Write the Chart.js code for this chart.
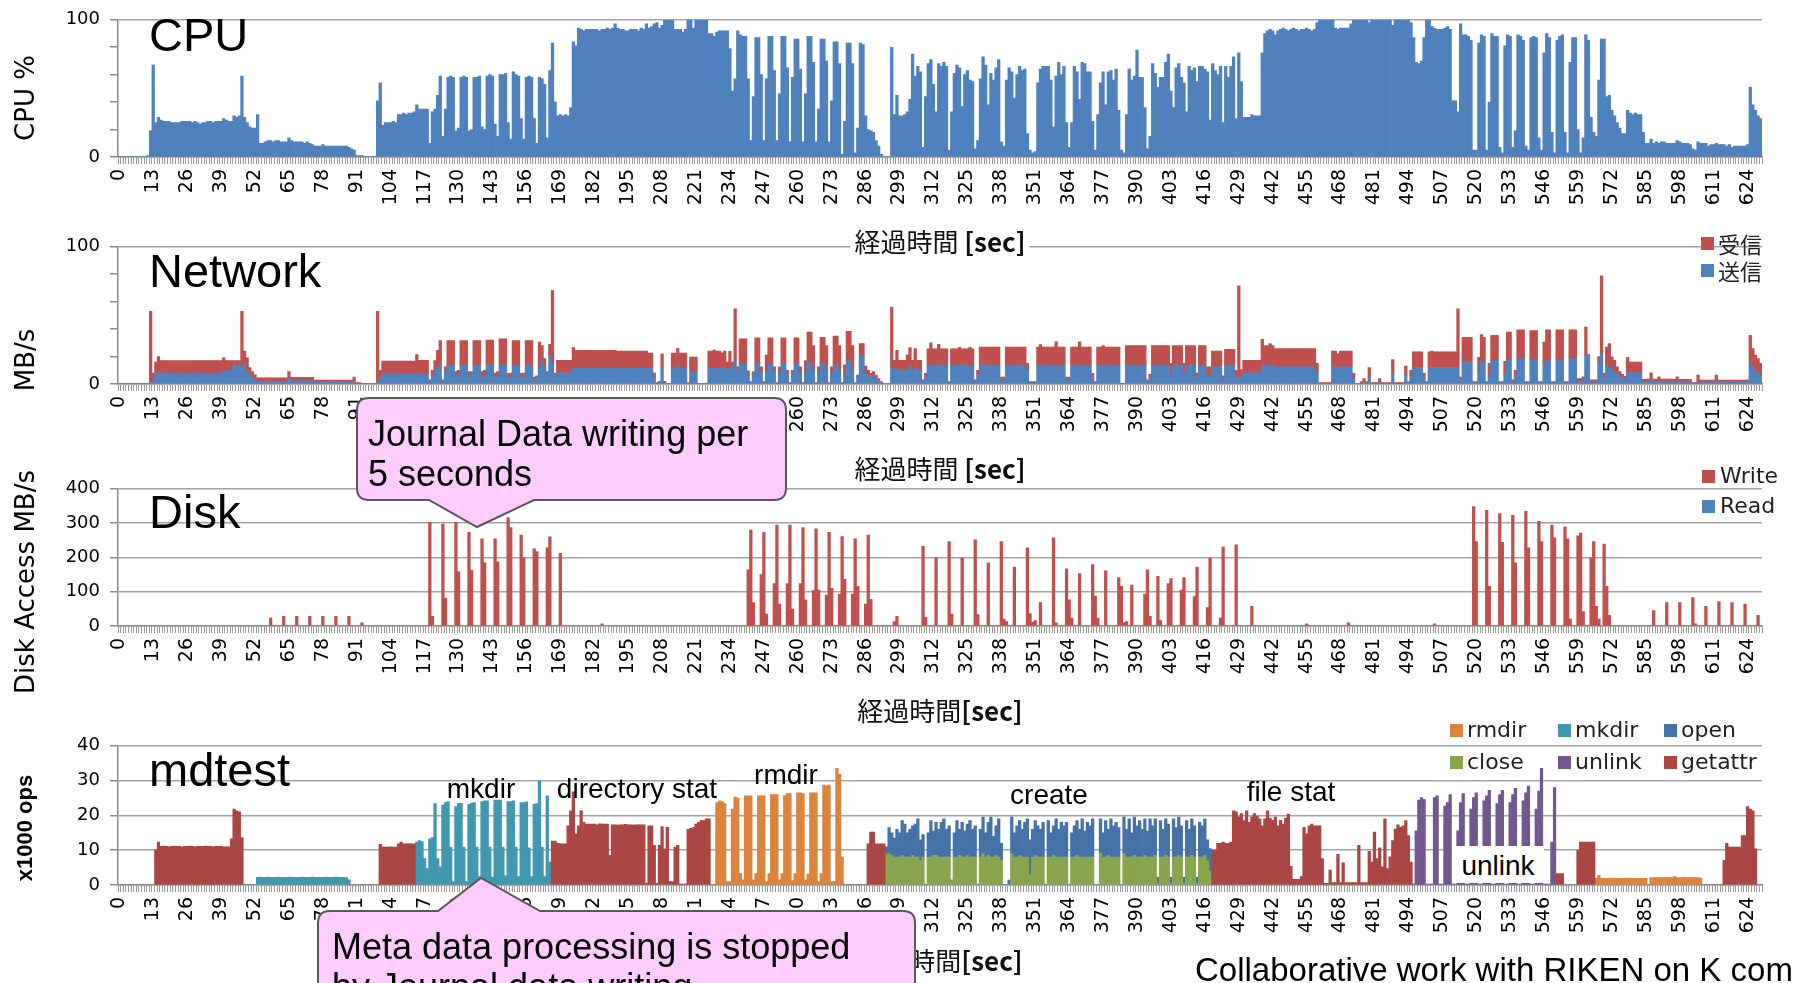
<!DOCTYPE html>
<html>
<head>
<meta charset="utf-8">
<script src="https://cdn.jsdelivr.net/npm/chart.js"></script>
<style>
body{margin:0;width:1793px;height:983px;overflow:hidden;background:#fff;position:relative;font-family:'Liberation Sans',Arial,sans-serif}
canvas{position:absolute;left:0}
.ov{position:absolute;white-space:nowrap;line-height:1;color:#000}
.ctr{transform:translate(-50%,-50%)}
.rot{transform:translate(-50%,-50%) rotate(-90deg)}
.big{font-size:47px}
.xt{font-family:'Noto Sans CJK JP',sans-serif;font-size:26px;background:#fff;padding:0 4px;color:#111}
.xt b{font-weight:700}
.sq{position:absolute;width:13px;height:13px}
.lg{font-family:'DejaVu Sans',sans-serif;font-size:22px;color:#222;transform:translateY(-50%)}
.ann{font-size:28px}
.call{font-size:36px;line-height:40px}
</style>
</head>
<body>
<script>
// time axis: one bar per second
const seconds = Array.from({length: 630}, (_, i) => i);
const tickLabels = [0,13,26,39,52,65,78,91,104,117,130,143,156,169,182,195,208,221,234,247,260,273,286,299,312,325,338,351,364,377,390,403,416,429,442,455,468,481,494,507,520,533,546,559,572,585,598,611,624];

// CPU %
const cpuUsage = [
0,0,0,0,0,0,0,0,0,0,
0,1,19,67,25,29,27,26,26,26,
25,25,25,25,26,26,26,26,25,26,
25,24,25,25,26,26,25,26,26,26,
28,27,26,26,30,29,30,59,29,25,
22,21,21,31,10,10,11,12,12,11,
12,12,11,11,11,14,12,11,11,11,
11,10,11,10,9,8,8,8,9,8,
8,8,8,8,8,8,8,8,7,6,
5,1,1,1,0,0,0,0,0,41,
54,23,25,25,25,26,25,31,31,32,
31,32,32,33,38,35,35,35,35,10,
33,35,45,59,15,35,58,59,58,19,
21,58,59,58,19,20,58,58,59,22,
20,59,60,59,24,15,60,60,61,25,
13,62,60,59,28,13,58,59,58,28,
10,58,57,53,14,63,83,40,30,31,
30,31,30,36,84,81,94,93,92,93,
93,93,93,93,92,93,93,94,93,94,
97,94,93,93,92,92,93,93,93,92,
94,93,97,94,95,97,98,94,96,100,
100,100,100,93,93,93,91,93,100,100,
94,100,100,100,100,100,90,90,88,91,
92,92,92,92,79,48,57,92,89,88,
88,57,12,44,87,87,60,12,57,88,
88,63,12,46,88,88,65,11,58,86,
86,64,11,46,88,88,69,11,35,86,
86,70,11,41,84,84,68,2,26,83,
83,68,3,21,83,82,30,20,19,18,
12,8,2,0,0,0,80,31,45,30,
30,31,33,42,75,59,66,62,7,44,
68,71,53,33,68,66,69,66,5,33,
61,67,65,37,60,63,56,55,6,12,
57,73,67,38,61,56,65,71,11,8,
56,65,62,43,60,66,63,64,17,5,
3,4,54,64,66,66,66,56,22,59,
69,60,66,25,7,25,66,62,42,69,
68,62,62,26,5,31,54,62,38,62,
63,56,64,34,5,3,31,64,56,59,
78,58,58,36,6,15,68,61,51,58,
58,69,75,48,36,65,68,58,54,33,
66,63,65,55,66,66,64,62,27,68,
63,60,66,25,66,58,66,73,28,76,
55,29,29,29,31,30,30,30,76,90,
92,93,92,89,92,93,94,93,92,93,
94,93,92,93,93,94,93,92,93,98,
100,100,100,100,100,100,94,93,94,94,
94,94,97,100,100,100,100,100,100,98,
100,100,100,100,100,100,100,100,96,100,
100,100,100,100,100,98,87,69,68,70,
87,100,100,95,94,93,93,93,94,95,
93,41,41,33,97,89,89,88,85,5,
5,83,89,88,5,40,90,88,88,7,
3,81,89,88,7,19,89,88,85,8,
5,87,88,87,14,5,76,90,87,18,
3,85,88,89,18,3,69,87,87,20,
3,14,89,85,29,18,15,56,86,86,
44,45,34,30,25,21,17,17,34,32,
31,32,31,31,18,10,10,13,10,11,
10,11,11,10,10,10,10,12,11,10,
10,10,9,6,5,11,10,10,10,8,
9,9,10,9,9,9,8,9,7,8,
8,8,8,8,9,51,38,34,30,28
];

// Network MB/s : 送信 (send, bottom) and 受信 (receive, stacked on top)
const netSend = [
0,0,0,0,0,0,0,0,0,0,
0,0,2,2,8,9,8,8,8,8,
8,8,8,7,8,8,8,8,8,8,
8,8,8,8,8,7,8,8,8,8,
9,10,10,10,14,13,14,12,15,9,
6,5,3.6,2,2,2,2,2,2,2,
2,2,2,2,2,4,2.4,2.4,2.4,2.4,
2.4,2.4,2.4,2.4,2.4,1.7,1.7,1.7,1.7,1.7,
1.7,1.7,1.7,1.7,1.7,1.7,1.7,1.7,1.7,1.7,
2,0.5,0.5,0,0,0,0,0,0,2,
5,7.7,7.7,7.7,7.7,7.7,7.7,7.7,7.7,7.7,
7.7,7.7,7.7,7.7,8,7.7,7.7,7.7,7.7,1.7,
6,9,12.5,13.7,1.7,9,13.7,13.7,13.7,5.5,
7,13.7,13.7,13.7,7.7,7,13.7,13.7,13.7,4,
6,14,14,14,5,6,14,14,14,4,
5,13.7,13.7,13.7,5,5,13.7,13.7,13.7,3,
4,12.5,17,12.5,7,21,15,6.5,8.2,8.2,
8.2,8.2,8.2,8.2,12,11.8,11.8,11.8,11.8,11.8,
11.8,11.8,11.8,11.8,11.8,11.8,11.8,11.8,11.8,11.8,
11.8,11.8,11.8,11.8,11.8,11.8,11.8,11.8,11.8,11.8,
11.8,11.8,11.8,11.3,11.3,5,0.5,1,12,1,
0,0,11.3,11.3,13,11.3,11.3,11.3,0.5,9,
9,9,0,0,0,0,11.8,11.8,11.8,11.8,
11.8,11.8,11.8,10,11.8,13.7,16,9,15,15,
15,6,1,7.7,15,15,9,1,9,15,
15,9,0.5,9,15,15,7,0.5,7.7,15,
15,9,0.5,9,16,16,10,0.5,9,15,
15,10,0.5,7.7,13.7,13.7,10,0.5,5.5,17,
17,10,0.5,5.5,21,21,7.7,6,5,6,
4,2,1,0,0,0,12.5,10,11,10,
10,10,10,13,10,12,10,10,2,5,
13.7,14,13.7,13.7,14,13.7,13.7,13.7,1,13.7,
13.7,13.7,13.7,13.7,13.7,13.7,13.7,13.7,2,6,
13.7,13.7,13.7,13.7,13.7,13.7,13.7,13.7,3,3,
13.7,13.7,13.7,13.7,13.7,13.7,13.7,13.7,10,1,
1,1,13.7,13.7,13.7,13.7,13.7,13.7,13.7,13.7,
13.7,13.7,13.7,3,3,13.7,13.7,13.7,13.7,13.7,
13.7,13.7,13.7,4,1,13.7,13.7,13.7,13.7,13.7,
13.7,13.7,13.7,13.7,0.3,0.3,13.7,13.7,13.7,13.7,
13.7,13.7,13.7,13.7,2,4,13.7,13.7,13.7,13.7,
13.7,13.7,13.7,8,13.7,13.7,13.7,13.7,8,13.7,
13.7,13.7,13.7,5,13.7,13.7,13.7,5.8,5.8,12.5,
12.5,12.5,12.5,3,13.7,13.7,13.7,13.7,5,5,
5,8.2,8.2,8.2,8.2,8.2,8.2,8.2,13.7,13.7,
13.7,13.7,13.7,12.5,12.5,12.5,12.5,12.5,12.5,12.5,
12.5,12.5,12.5,12.5,12.5,12.5,12.5,12.5,12.5,8,
0.5,0.5,0.5,0.5,0.5,12.5,12.5,12,12.5,12.5,
12.5,12.5,12.5,4,0,0,0.5,1,0.5,5,
0.5,0.5,0.5,1,0.5,0.5,0.5,0.5,8.2,0.5,
0.5,0.5,0.5,6.5,1,5.3,12,12,12,12,
4,1,12,12,12,12,12,12,12,12,
12,12,12,12,3,15.7,15.7,15.7,15.7,1,
1,10,16.6,16,1,6.5,17,17,17,1,
1,7.7,17.5,17.5,1.5,6,18.5,18.5,18.5,1,
1,17.8,17.8,17.8,1,1,15,18,18,1,
1,18,18,18,1,1,18.5,18.5,18.5,2,
2,3,21,21,1.5,1.5,1.5,15,22,4,
13.7,12.5,10,9,7.7,5.5,4,3,8.2,8.2,
8.2,8.2,8.2,8.2,1.7,1.7,1.7,3,1.7,1.7,
2,1.7,1.7,1.7,1.7,1.7,1.7,2,1.7,1.7,
1.7,1.7,1.7,0.5,0.5,2,1.7,1.7,1.7,1.7,
1.7,1.7,2,1.7,1.7,1.7,1.7,1.7,1.7,1.7,
1.7,1.7,1.7,1.7,1.7,16.6,12.5,9,7.7,7
];
const netRecv = [
0,0,0,0,0,0,0,0,0,0,
0,0,51,6,8,11,9,9,9,9,
9,9,9,10,9,9,9,9,9,9,
9,9,9,9,9,10,9,9,9,9,
10,7,7,7,3,4,3,41,9,10,
6,4,3,2.5,2.5,2.5,2.5,2.5,2.5,2.5,
2.5,2.5,2.5,2.5,2.5,5,2.4,2.4,2.4,2.4,
2.4,2.4,2.4,2.4,2.4,1.2,1.2,1.2,1.2,1.2,
1.2,1.2,1.2,1.2,1.2,1.2,1.2,1.2,1.2,1.2,
3,0.5,0.5,0,0,0,0,0,0,51,
5,9,9,9,9,9,9,9,9,9,
9,9,9,9,13.5,9.6,9.6,9.6,9.6,1.3,
4,8,12,18,1.3,3.5,18,18,18,3.5,
3,18,18,18,1.3,2,18,18,18,5,
4,18,18,18,3,3,19,19,19,3.7,
3,18,18,18,2.7,3,18,18,18,2,
2,18,11,6,2,8,53,1.2,9,9,
9,9,9,9,14.5,12.8,12.8,12.8,12.8,12.8,
12.8,12.8,12.8,12.8,12.8,12.8,12.8,12.8,12.8,12.8,
12.8,12.2,12.2,12.2,12.2,12.2,12.2,12.2,12.2,12.2,
12.2,12.2,12.2,11.3,11.3,3,0.5,1,10,1,
0,0,11.3,11.3,13,11.3,11.3,11.3,0.5,10.7,
10.7,10.7,0,0,0,0,12.2,12.2,13,12.2,
12.2,11,12.2,6,12,2.3,38.7,3.5,18,18,
18,3.6,0.7,1.3,18.7,18.7,3.5,0.7,12,18.7,
18.7,3.5,0.5,3.5,18.7,18.7,3,0.5,2.3,18.7,
18.7,3.5,0.5,8,21.8,21.8,18,0.5,3.5,19,
19,18,0.5,4.8,21.3,21.3,18,0.5,8.5,21.3,
21.3,18,0.5,1,8.4,8.4,5.3,4,2.7,3,
2.5,2,0.7,0,0,0,43.5,7.3,13.6,7.3,
7.3,7.3,11,13.5,7.3,13.8,7.3,7.3,1,2.7,
12,16,12,12,15,12,12,12,0.7,12,
12,12,13,12,12,12,13,12,1,4,
13.3,13.3,13.3,13.3,13.3,13.3,13.3,13.3,2,2,
13.3,13.3,13.3,13.3,13.3,13.3,13.3,13.3,5,0.7,
0.7,0.7,13.3,15,13.3,13.3,13.3,13.3,13.3,17,
13.3,13.3,13.3,2,2,13.3,13.3,13.3,17,13.3,
13.3,13.3,13.3,3.7,0.7,13.3,13.3,14.3,13.3,13.3,
13.3,13.3,13.3,13.3,0.2,0.2,14.3,14.3,14.3,14.3,
14.3,14.3,14.3,14.3,1,3,14.3,14.3,14.3,14.3,
14.3,14.3,14.3,7,14.3,14.3,14.3,14.3,7,14.3,
14.3,14.3,14.3,3,14.3,14.3,14.3,6.7,6.7,11.5,
11.5,11.5,11.5,3,11.6,11.6,11.6,11.6,5,66.6,
5.6,9,9,9,9,9,9,9,18.8,14.3,
14.3,15.7,14.3,13.3,13.3,13.3,13.3,13.3,13.3,13.3,
13.3,13.3,13.3,13.3,13.3,13.3,13.3,13.3,13.3,7,
0.5,0.5,0.5,0.5,0.5,11.5,11.5,10,11.5,11.5,
11.5,11.5,11.5,3.7,0,0,1.2,3,1.2,7,
0.5,0.5,0.5,3,0.5,0.5,0.5,0.5,9.6,0.5,
0.5,0.5,0.5,6.5,0.7,4.7,11.4,11.4,11.4,11.4,
3.7,0.7,11.4,12,11.4,11.4,11.4,11.4,11.4,11.4,
11.4,11.4,11.4,42.7,2,18.3,18.3,18.3,18.3,0.7,
0.7,9.5,19.4,18,0.7,8.5,18.4,18.4,18.4,0.7,
0.7,8.9,20.3,20.3,1.5,4,21,21,21,0.7,
0.7,21.2,21.2,21.2,0.7,0.7,15.6,21.5,21.5,0.7,
0.7,21.5,21.5,21.5,0.7,0.7,21,21,21,2,
2,2.3,20.4,0.5,1.5,1.5,1.5,5,56.8,3.7,
13.3,16.9,9.8,8.3,4.8,3.5,3,2.5,11.3,7.8,
7.8,7.8,7.8,7.8,1.7,1.9,1.9,5.2,1.9,1.9,
3.3,1.9,1.9,1.9,1.9,1.9,1.7,3.3,1.7,1.7,
1.7,1.7,1.7,0.5,0.5,4.5,1.2,1.2,1.2,1.2,
1.2,1.2,4.5,1.2,1.2,1.2,1.2,1.2,1.2,1.2,
1.2,1.2,1.2,1.2,1.3,18.8,13.3,12,10.8,8
];

// Disk write MB/s, [second, value]; read stays empty
const diskWrite = [
[58,23],[63,28],[68,28],[73,28],[78,28],[83,28],[88,28],[93,9],
[119,302],[120,28],[124,297],[125,81],[129,302],[130,158],[134,273],[135,162],[139,254],[140,184],
[144,254],[145,187],[149,316],[150,287],[154,265],[155,199],[159,225],[160,217],[164,228],[165,260],[169,212],[185,6],
[241,164],[242,280],[243,68],[246,150],[247,273],[248,35],[251,124],[252,294],[253,64],[256,124],[257,294],[258,49],
[261,124],[262,287],[263,76],[266,103],[267,283],[268,105],[271,90],[272,273],[273,110],[276,93],[277,261],[278,136],
[281,93],[282,254],[283,116],[286,64],[287,265],[288,78],
[297,13],[298,28],[308,232],[309,25],[313,199],[318,246],[319,35],[323,199],[328,251],[329,33],[333,184],
[338,246],[339,20],[340,13],[343,172],[348,228],[349,36],[350,11],[351,16],[353,68],[358,257],[359,9],
[363,167],[364,76],[365,23],[368,153],[373,179],[374,87],[375,23],[378,161],[383,141],[384,116],[385,9],[386,13],
[388,119],[393,93],[394,164],[395,28],[398,145],[399,16],[402,124],[403,138],[407,105],[408,141],[412,86],[413,172],
[417,54],[418,199],[422,23],[423,230],[428,237],[434,57],
[455,6],[471,9],[504,6],
[519,348],[520,246],[524,337],[525,116],[529,328],[530,244],[534,323],[535,184],[539,334],[540,228],
[544,305],[545,246],[549,294],[550,257],[554,289],[555,254],[556,20],[559,263],[560,271],[561,42],
[564,199],[565,246],[566,57],[567,20],[569,239],[570,116],[571,31],
[588,45],[593,68],[598,68],[603,83],[604,6],[608,57],[613,71],[618,68],[623,64],[628,31]
];
const diskRead = [];

// mdtest, x1000 ops/s : [first second, values...]
const getattrRuns = [
[14,[10.1,12.3]],
[16,[11.1,11.2,11.1,11.0,11.1,11.2,11.1,11.1,11.0,11.1]],
[26,[11.1,11.2,11.1,11.0,11.1,11.1,11.1,11.2,11.1,11.1]],
[36,[11.0,11.1,11.1,11.1,11.0,11.0,11.0,13.3,21.8,21.3]],
[46,[21.0,13.6]],
[100,[11.7,10.9,10.9,10.9,11.0,10.9,10.9,11.8,12.3,11.8]],
[110,[11.8,11.9,11.8,11.8]],
[166,[12.6,12.6,12.0,11.8]],
[170,[11.8,11.8,17.0,21.3,26.8,14.7,17.0,21.3,18.0,17.5]],
[180,[17.5,17.5,17.5,17.3,17.6,17.5,17.5,17.5,8.5,17.3]],
[190,[17.3,17.2,17.3,17.3,17.4,17.3,17.3,17.2,17.3,17.3]],
[200,[17.3,17.3,0.5,17.0,17.0,11.4,0.5,11.4,16.8,10.4]],
[210,[16.6,1.0,1.0,10.9,11.4,0.3,0.3,0.3,16.0,16.3]],
[220,[16.5,17.5,18.0,18.5,18.5,19.0,19.0]],
[287,[11.8,15.2,15.2,11.8,11.8,11.8,11.8]],
[419,[10.0,10.0,12.0,12.0,12.3,12.0,12.0,12.3,21.3,21.0]],
[429,[19.6,20.5,18.5,21.3,18.0,19.6,20.5,19.8,19.0,17.0]],
[439,[19.0,21.3,19.2,18.6,19.5,17.0,18.6,17.5,19.2,20.4]],
[449,[5.4,1.6,1.6,1.6,2.4,16.6,14.7,17.0,17.5,17.0]],
[459,[17.0,17.0,7.6,0.5,0.5,4.3,0.7,0.7,8.8,0.7]],
[469,[6.4,0.7,0.7,0.7,0.7,0.7,11.4,0.7,0.7,0.7]],
[479,[9.7,6.6,15.2,7.6,10.7,5.2,19.0,4.7,8.1,12.8]],
[489,[16.1,17.3,16.6,17.0,18.5,14.2,6.6,0.3]],
[551,[3.3,3.3,3.3]],
[559,[10.0,12.3,12.3,12.3,12.3,12.3,12.3]],
[615,[7.1,12.0,10.9,10.9,10.9,10.9,10.9,14.2,14.2,22.5]],
[625,[21.8,21.3,10.4]]
];
const mkdirRuns = [
[53,[2.2,2.3,2.2,2.2,2.3,2.2,2.2,2.2,2.3,2.2]],
[63,[2.2,2.2,2.3,2.2,2.2,2.2,2.2,2.3,2.2,2.2]],
[73,[2.2,2.3,2.2,2.2,2.2,2.2,2.3,2.2,2.2,2.2]],
[83,[2.3,2.2,2.2,2.2,2.1,1.5]],
[114,[12.3,12.8,12.5,7.6,4.7,13.3]],
[120,[13.6,23.4,7.6,5.2,23.0,23.7,24.0,10.9,1.0,22.5]],
[130,[23.4,23.5,10.9,1.0,23.2,23.5,23.7,10.9,2.4,24.0]],
[140,[24.2,24.2,10.9,2.3,24.4,24.4,24.4,10.9,2.6,24.0]],
[150,[24.0,24.2,10.9,2.4,23.7,23.7,23.9,10.7,2.4,23.2]],
[160,[23.4,29.9,10.9,2.4,25.6,6.6]]
];
const rmdirRuns = [
[229,[23.7,24.2,24.0,23.4,1.0,1.0,21.8,25.3,25.0,3.3]],
[239,[1.5,25.6,25.6,25.6,1.5,3.3,25.6,25.6,25.6,1.0]],
[249,[3.3,26.0,26.0,26.0,1.5,3.3,25.7,26.3,26.3,1.3]],
[259,[3.3,26.5,26.5,26.3,1.5,3.1,26.5,26.5,26.5,1.0]],
[269,[3.3,28.7,28.5,28.7,1.0,1.0,33.5,31.8,8.1]],
[566,[1.9,2.8,1.9,1.9,1.9,2.0,1.9,1.9,1.9,1.9]],
[576,[1.9,1.9,2.0,1.9,1.9,1.9,1.9,1.9,1.9,1.9]],
[587,[2.1,2.1,2.1,2.1,2.1,2.2,2.1,2.1,2.1,2.4]],
[597,[2.1,2.1,2.1,2.2,2.1,2.1,2.1,2.1,2.1,2.0]]
];
const unlinkRuns = [
[497,[15.6,24.4,25.1,24.6,0.3,0.3,0.3,25.1,25.6,0.3]],
[507,[0.3,22.7,23.7,26.0,0.3,0.3,15.6,23.7,26.3,0.3]],
[517,[0.3,21.8,25.1,26.5,0.3,0.3,24.2,25.6,27.2,0.3]],
[527,[0.3,23.4,26.0,27.2,0.3,0.3,23.7,26.0,27.8,0.3]],
[537,[0.3,24.2,26.5,28.4,0.3,0.3,21.8,27.0,33.5,0.3]],
[547,[0.3,0.3,12.3,28.0]]
];
const closeRuns = [
[294,[9,9,8.5,8,8,8,8.5,8,8,8]],
[304,[8.5,8,8,7,8,0,8,8,8.5,8.5]],
[314,[8,8,8,8,8,1.4,8,8,8.5,8]],
[324,[8,8.5,8,8,8,0,8,9,8,8.5]],
[334,[8,8,8.5,8,7,0,0,0,9,8]],
[344,[8,8.5,8,8,8,3,8,8.5,8,8]],
[354,[8,0,8,8,8.5,8,8,8,8,8]],
[364,[0,8,8,8.5,8,8,8,8,8,8]],
[374,[0,0,9,8,8,8.5,8,8,8,8]],
[384,[0,9,8,8,8,8.5,8,8,8,8.5]],
[394,[8,8,8,8.5,0.5,8,8,8.5,8,0.5]],
[404,[8,8,8.5,8,0.5,8,8,8.5,8,0.5]],
[414,[8,8,8.5,7,4]]
];
const openRuns = [
[294,[2,7.5,6.5,5.5,8,7,10,9.5,7,8]],
[304,[8.5,9.5,11,6,6.5,0,7,10.5,7,9.5]],
[314,[8,10,11,8,9,0,7,10.5,7.5,10]],
[324,[7.5,9,10.5,8,9,0.3,8,10.5,7,9.5]],
[334,[11.5,6,8.5,11,5,0,0,1.4,10.5,7]],
[344,[9,10,8,10,11,10,8,10,9,8]],
[354,[10,0,10.5,7,8.5,11,8,10,9,10]],
[364,[0,7,9,10,8,11,7.5,10,9,11]],
[374,[0,0,10,7,10.5,7.5,11,9,10,8.5]],
[384,[0,10.5,8,11,7,11,9,10.5,8,10.5]],
[394,[7.5,11,9,10.5,1.7,10.5,8,10.5,9.5,1.7]],
[404,[11,8.5,11,9,1.7,10.5,8,10.5,9,1.7]],
[414,[10,9,10.5,6,6.5]]
];

// put runs / pairs onto the seconds axis
function fromRuns(runs) {
  const out = new Array(seconds.length).fill(null);
  runs.forEach(([start, vals]) => vals.forEach((v, k) => { out[start + k] = v; }));
  return out;
}
function fromPairs(pairs) {
  const out = new Array(seconds.length).fill(null);
  pairs.forEach(([t, v]) => { out[t] = v; });
  return out;
}

const GRID = '#a3a3a3';
const AXIS = '#8c8c8c';
const W = 1793, PLOT_L = 118, PLOT_R = 1762, XH = 70;

function bars(label, data, color) {
  return { label, data, backgroundColor: color, borderWidth: 0, barPercentage: 1.0, categoryPercentage: 1.0, stack: 's' };
}

function panel(plotTop, plotBottom, datasets, yMax, yStep, labelEvery) {
  const cv = document.createElement('canvas');
  const top = plotTop - 20;
  cv.width = W;
  cv.height = plotBottom - top + XH;
  cv.style.top = top + 'px';
  document.body.appendChild(cv);
  return new Chart(cv, {
    type: 'bar',
    data: { labels: seconds, datasets },
    options: {
      responsive: false, animation: false,
      layout: { padding: { top: 20, right: W - PLOT_R, left: 0, bottom: 0 } },
      plugins: { legend: { display: false }, tooltip: { enabled: false } },
      scales: {
        x: {
          stacked: true,
          grid: { display: true, drawOnChartArea: false, tickLength: 7, color: '#9a9a9a', lineWidth: 1 },
          border: { color: AXIS, width: 1.5 },
          ticks: {
            autoSkip: false, minRotation: 90, maxRotation: 90, padding: 5, color: '#000',
            font: { family: 'DejaVu Sans', size: 19 },
            callback: (v, i) => tickLabels.includes(i) ? String(i) : ''
          },
          afterFit: s => { s.height = XH; }
        },
        y: {
          stacked: true, min: 0, max: yMax,
          afterFit: s => { s.width = PLOT_L; },
          ticks: {
            stepSize: yStep, padding: 10, color: '#000',
            font: { family: 'DejaVu Sans', size: 18 },
            callback: v => v % labelEvery === 0 ? v : ''
          },
          grid: {
            color: c => (c.tick && c.tick.value % labelEvery === 0) ? GRID : 'rgba(0,0,0,0)',
            tickColor: AXIS, tickLength: 8, lineWidth: 1.5
          },
          border: { color: AXIS, width: 1.5 }
        }
      }
    }
  });
}

Chart.defaults.font.family = 'DejaVu Sans';

panel(19, 157, [bars('CPU', cpuUsage, '#4F81BD')], 100, 10, 50);
panel(246, 384, [bars('送信', netSend, '#4F81BD'), bars('受信', netRecv, '#C0504D')], 100, 10, 50);
panel(488, 626, [bars('Write', fromPairs(diskWrite), '#C0504D'), bars('Read', fromPairs(diskRead), '#4F81BD')], 400, 100, 100);
panel(745, 885, [
  bars('getattr', fromRuns(getattrRuns), '#AA4643'),
  bars('unlink', fromRuns(unlinkRuns), '#71588F'),
  bars('close', fromRuns(closeRuns), '#89A54E'),
  bars('open', fromRuns(openRuns), '#4572A7'),
  bars('mkdir', fromRuns(mkdirRuns), '#4198AF'),
  bars('rmdir', fromRuns(rmdirRuns), '#DB843D')
], 40, 10, 10);
</script>

<!-- axis titles -->
<div class="ov rot" style="left:25px;top:98px;font-size:26px;font-family:'DejaVu Sans'">CPU %</div>
<div class="ov rot" style="left:25px;top:360px;font-size:26px;font-family:'DejaVu Sans'">MB/s</div>
<div class="ov rot" style="left:25px;top:582px;font-size:26px;font-family:'DejaVu Sans'">Disk Access MB/s</div>
<div class="ov rot" style="left:25px;top:828px;font-size:22px;font-weight:bold">x1000 ops</div>

<div class="ov ctr xt" style="left:940px;top:241px">経過時間 <b>[sec]</b></div>
<div class="ov ctr xt" style="left:940px;top:468px">経過時間 <b>[sec]</b></div>
<div class="ov ctr xt" style="left:940px;top:710px">経過時間<b>[sec]</b></div>
<div class="ov ctr xt" style="left:940px;top:960px">経過時間<b>[sec]</b></div>

<!-- panel names -->
<div class="ov big" style="left:149px;top:11px">CPU</div>
<div class="ov big" style="left:149px;top:247px">Network</div>
<div class="ov big" style="left:149px;top:488px">Disk</div>
<div class="ov big" style="left:149px;top:746px">mdtest</div>

<!-- legends -->
<div class="sq" style="left:1701px;top:237px;background:#C0504D"></div>
<div class="ov lg" style="left:1718px;top:243px;font-family:'Noto Sans CJK JP'">受信</div>
<div class="sq" style="left:1701px;top:264px;background:#4F81BD"></div>
<div class="ov lg" style="left:1718px;top:270px;font-family:'Noto Sans CJK JP'">送信</div>

<div class="sq" style="left:1702px;top:470px;background:#C0504D"></div>
<div class="ov lg" style="left:1720px;top:476px">Write</div>
<div class="sq" style="left:1702px;top:500px;background:#4F81BD"></div>
<div class="ov lg" style="left:1720px;top:506px">Read</div>

<div class="sq" style="left:1450px;top:724px;background:#DB843D"></div>
<div class="ov lg" style="left:1467px;top:730px">rmdir</div>
<div class="sq" style="left:1558px;top:724px;background:#4198AF"></div>
<div class="ov lg" style="left:1575px;top:730px">mkdir</div>
<div class="sq" style="left:1664px;top:724px;background:#4572A7"></div>
<div class="ov lg" style="left:1681px;top:730px">open</div>
<div class="sq" style="left:1450px;top:756px;background:#89A54E"></div>
<div class="ov lg" style="left:1467px;top:762px">close</div>
<div class="sq" style="left:1558px;top:756px;background:#71588F"></div>
<div class="ov lg" style="left:1575px;top:762px">unlink</div>
<div class="sq" style="left:1664px;top:756px;background:#AA4643"></div>
<div class="ov lg" style="left:1681px;top:762px">getattr</div>

<!-- phase notes -->
<div class="ov ctr ann" style="left:481px;top:789px">mkdir</div>
<div class="ov ctr ann" style="left:637px;top:789px">directory stat</div>
<div class="ov ctr ann" style="left:786px;top:775px">rmdir</div>
<div class="ov ctr ann" style="left:1049px;top:795px">create</div>
<div class="ov ctr ann" style="left:1291px;top:792px">file stat</div>
<div class="ov ann" style="left:1452px;top:846px;width:92px;height:37px;background:#fff;text-align:center;line-height:40px">unlink</div>

<!-- callouts -->
<svg style="position:absolute;left:0;top:0" width="1793" height="983">
  <path d="M369,398 H774 Q786,398 786,410 V488 Q786,500 774,500 H534 L477,527 L429,500 H369 Q357,500 357,488 V410 Q357,398 369,398 Z"
        fill="#FFCCFF" stroke="#595959" stroke-width="2"/>
  <path d="M330,911 H438 L481,878 L540,911 H903 Q915,911 915,923 V1010 H318 V923 Q318,911 330,911 Z"
        fill="#FFCCFF" stroke="#595959" stroke-width="2"/>
</svg>
<div class="ov call" style="left:368px;top:414px">Journal Data writing per<br>5 seconds</div>
<div class="ov call" style="left:332px;top:927px">Meta data processing is stopped<br>by Journal data writing</div>

<div class="ov" style="left:1195px;top:953px;font-size:33px">Collaborative work with RIKEN on K computer</div>
</body>
</html>
